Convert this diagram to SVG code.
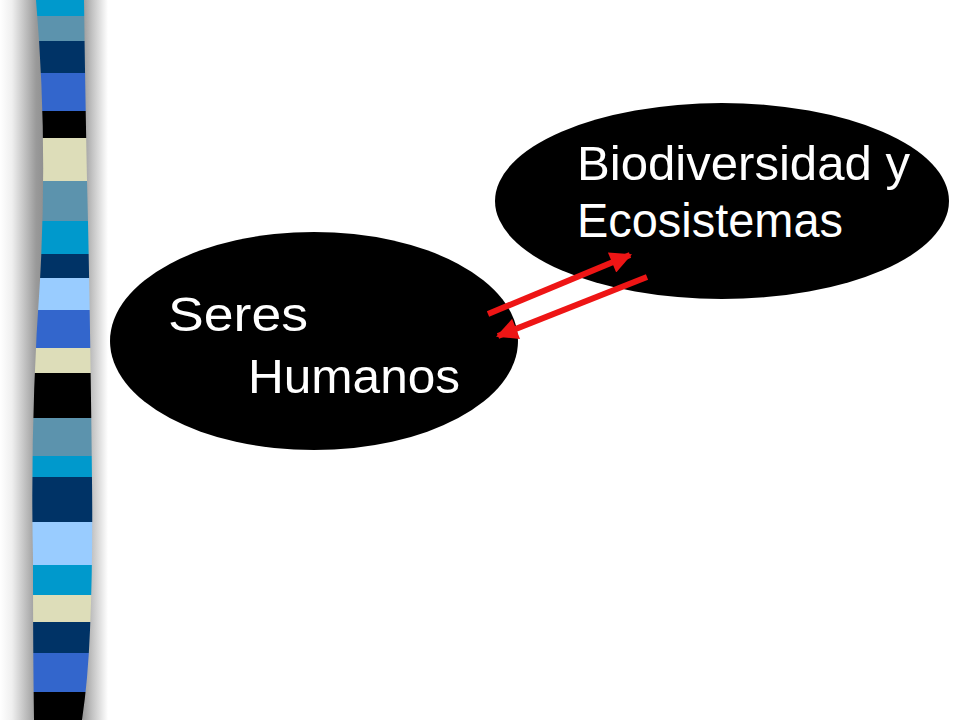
<svg xmlns="http://www.w3.org/2000/svg" width="960" height="720" viewBox="0 0 960 720">
<defs>
<style>
.node{fill:#000000}
.lbl{fill:#ffffff;font-family:"Liberation Sans","DejaVu Sans",sans-serif;font-size:48px}
.con{stroke:#ee1515;stroke-width:6;fill:none}
</style>
<linearGradient id="shL" x1="0" y1="0" x2="1" y2="0">
<stop offset="0" stop-color="#ffffff"/>
<stop offset="0.25" stop-color="#efefef"/>
<stop offset="0.75" stop-color="#9a9a9a"/>
<stop offset="1" stop-color="#8a8a8a"/>
</linearGradient>
<linearGradient id="shR" x1="0" y1="0" x2="1" y2="0">
<stop offset="0" stop-color="#8e8e8e"/>
<stop offset="0.45" stop-color="#c4c4c4"/>
<stop offset="1" stop-color="#ffffff"/>
</linearGradient>
<clipPath id="barClip">
<path d="M36,0 Q48,140 40,280 Q30,420 33,560 Q33,650 34,720 L82,720 Q88,680 90,630 Q93,560 92,480 Q90,300 87,180 Q85,80 84,0 Z"/>
</clipPath>
<marker id="ah" viewBox="0 0 10 10" refX="9" refY="5" markerWidth="4" markerHeight="3.6" orient="auto" markerUnits="strokeWidth">
<path d="M0,0 L10,5 L0,10 Z" fill="#ee1515"/>
</marker>
</defs>
<rect width="960" height="720" fill="#ffffff"/>
<g id="sidebar">
<rect x="0" y="0" width="48" height="720" fill="url(#shL)"/>
<rect x="80" y="0" width="28" height="720" fill="url(#shR)"/>
<g clip-path="url(#barClip)">
<rect x="20" y="0" width="80" height="16" fill="#0099cc"/>
<rect x="20" y="16" width="80" height="25" fill="#5c93ad"/>
<rect x="20" y="41" width="80" height="32" fill="#003366"/>
<rect x="20" y="73" width="80" height="38" fill="#3366cc"/>
<rect x="20" y="111" width="80" height="27" fill="#000000"/>
<rect x="20" y="138" width="80" height="43" fill="#ddddb9"/>
<rect x="20" y="181" width="80" height="40" fill="#5c93ad"/>
<rect x="20" y="221" width="80" height="33" fill="#0099cc"/>
<rect x="20" y="254" width="80" height="24" fill="#003366"/>
<rect x="20" y="278" width="80" height="32" fill="#99ccff"/>
<rect x="20" y="310" width="80" height="38" fill="#3366cc"/>
<rect x="20" y="348" width="80" height="25" fill="#ddddb9"/>
<rect x="20" y="373" width="80" height="45" fill="#000000"/>
<rect x="20" y="418" width="80" height="38" fill="#5c93ad"/>
<rect x="20" y="456" width="80" height="21" fill="#0099cc"/>
<rect x="20" y="477" width="80" height="45" fill="#003366"/>
<rect x="20" y="522" width="80" height="43" fill="#99ccff"/>
<rect x="20" y="565" width="80" height="30" fill="#0099cc"/>
<rect x="20" y="595" width="80" height="27" fill="#ddddb9"/>
<rect x="20" y="622" width="80" height="31" fill="#003366"/>
<rect x="20" y="653" width="80" height="39" fill="#3366cc"/>
<rect x="20" y="692" width="80" height="28" fill="#000000"/>
</g>
</g>
<g id="node-seres">
<ellipse class="node" cx="314" cy="341" rx="204" ry="109"/>
<text class="lbl" x="168" y="331" textLength="140" lengthAdjust="spacingAndGlyphs">Seres</text>
<text class="lbl" x="248" y="393" textLength="212" lengthAdjust="spacingAndGlyphs">Humanos</text>
</g>
<g id="node-bio">
<ellipse class="node" cx="722" cy="201" rx="227" ry="98"/>
<text class="lbl" x="577" y="180" textLength="333" lengthAdjust="spacingAndGlyphs">Biodiversidad y</text>
<text class="lbl" x="577" y="237" textLength="266" lengthAdjust="spacingAndGlyphs">Ecosistemas</text>
</g>
<g id="connectors">
<line class="con" x1="488" y1="314" x2="630" y2="255" marker-end="url(#ah)"/>
<line class="con" x1="647" y1="277" x2="498" y2="336" marker-end="url(#ah)"/>
</g>
</svg>
